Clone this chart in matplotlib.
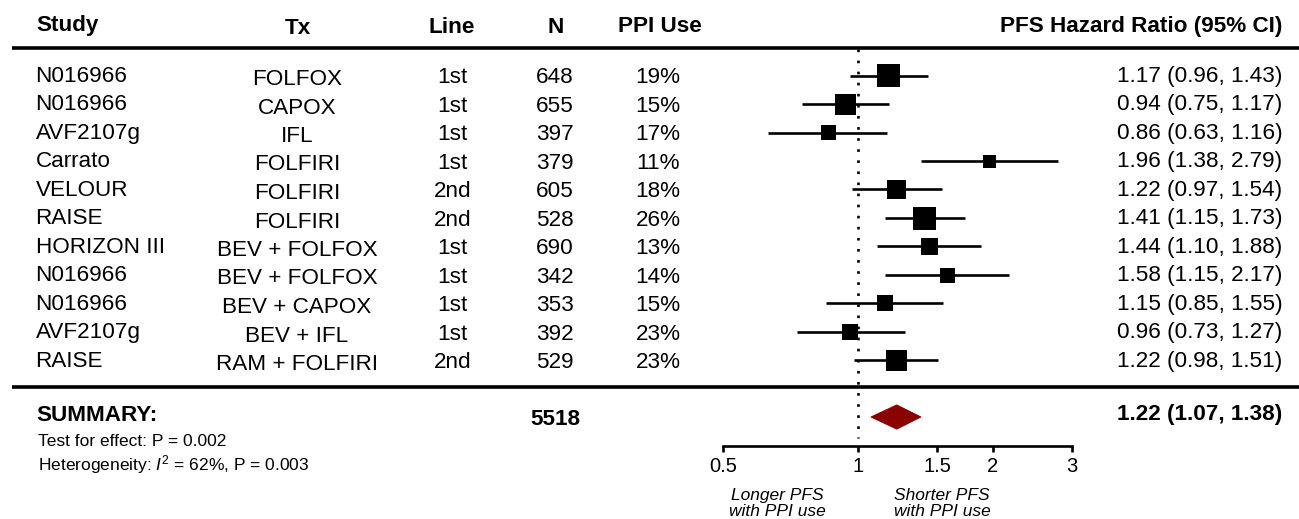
import matplotlib
matplotlib.use("Agg")
import matplotlib.pyplot as plt
import numpy as np
from matplotlib import transforms
from matplotlib.ticker import FixedLocator, FixedFormatter, NullLocator

plt.rcParams['font.family'] = ['Liberation Sans', 'DejaVu Sans']
plt.rcParams['mathtext.fontset'] = 'custom'
plt.rcParams['mathtext.rm'] = 'Liberation Sans'
plt.rcParams['mathtext.it'] = 'Liberation Sans:italic'

# ---------------- data ----------------
studies = ["N016966", "N016966", "AVF2107g", "Carrato", "VELOUR", "RAISE",
           "HORIZON III", "N016966", "N016966", "AVF2107g", "RAISE"]
treatments = ["FOLFOX", "CAPOX", "IFL", "FOLFIRI", "FOLFIRI", "FOLFIRI",
              "BEV + FOLFOX", "BEV + FOLFOX", "BEV + CAPOX", "BEV + IFL", "RAM + FOLFIRI"]
lines_of_tx = ["1st", "1st", "1st", "1st", "2nd", "2nd", "1st", "1st", "1st", "1st", "2nd"]
n_patients = [648, 655, 397, 379, 605, 528, 690, 342, 353, 392, 529]
ppi_use = [19, 15, 17, 11, 18, 26, 13, 14, 15, 23, 23]
hr = [1.17, 0.94, 0.86, 1.96, 1.22, 1.41, 1.44, 1.58, 1.15, 0.96, 1.22]
ci_low = [0.96, 0.75, 0.63, 1.38, 0.97, 1.15, 1.10, 1.15, 0.85, 0.73, 0.98]
ci_high = [1.43, 1.17, 1.16, 2.79, 1.54, 1.73, 1.88, 2.17, 1.55, 1.27, 1.51]
weights = [23, 21, 15, 13, 19, 23, 17, 15, 16, 16, 21]  # relative box weights

summary_n = 5518
summary_hr = 1.22
summary_low = 1.07
summary_high = 1.38
test_effect_p = "0.002"
het_i2 = 62
het_p = "0.003"

headers = ["Study", "Tx", "Line", "N", "PPI Use", "PFS Hazard Ratio (95% CI)"]
xticks = [0.5, 1, 1.5, 2, 3]
xtick_labels = ["0.5", "1", "1.5", "2", "3"]

# ---------------- layout ----------------
W, H = 1299, 519
fig = plt.figure(figsize=(W / 100, H / 100), dpi=100)

ROW0 = 47.0      # pixel y of row index 0
ROWH = 28.5      # pixel height of one row


def ry(px):
    """pixel y (from top) -> row units"""
    return (px - ROW0) / ROWH


def fx(px):
    return px / W


ax = fig.add_axes([fx(723), 0, fx(1072 - 723), 1])
ax.set_xscale('log')
ax.set_xlim(0.5, 3)
ax.set_ylim(ry(H), ry(0))
ax.patch.set_visible(False)

for s in ['top', 'left', 'right']:
    ax.spines[s].set_visible(False)
ax.spines['bottom'].set_position(('data', ry(446)))
ax.spines['bottom'].set_linewidth(1.9)
ax.yaxis.set_major_locator(NullLocator())
ax.xaxis.set_major_locator(FixedLocator(xticks))
ax.xaxis.set_major_formatter(FixedFormatter(xtick_labels))
ax.xaxis.set_minor_locator(NullLocator())
ax.tick_params(axis='x', direction='out', length=4, width=1.9, pad=4,
               labelsize=14.5, colors='black')

rows = np.arange(1, len(studies) + 1)

# reference line
ax.vlines(1, ry(49), ry(438), colors='black', linestyles=(0, (1, 3.2)), lw=1.9)

# CIs and boxes
ax.hlines(rows, ci_low, ci_high, colors='black', lw=1.9, capstyle='butt')
sizes = (np.array(weights) * 0.72) ** 2
ax.scatter(hr, rows, marker='s', s=sizes, color='black', linewidths=0, zorder=3)

# summary diamond
sy = ry(417)
dh = 12 / ROWH
ax.fill([summary_low, summary_hr, summary_high, summary_hr],
        [sy, sy - dh, sy, sy + dh], color='#8B0000', ec='#8B0000', lw=0.8,
        joinstyle='round', zorder=3)

# horizontal rules
blend = transforms.blended_transform_factory(fig.transFigure, ax.transData)
for ypx in (47.5, 387.5):
    ax.plot([fx(12), 1.0], [ry(ypx), ry(ypx)], color='black', lw=2.6,
            transform=blend, clip_on=False, solid_capstyle='butt')

FS = 16.2
# headers
hdr_x = [36, 297.5, 452, 555.5, 659.5, 1282.5]
hdr_ha = ['left', 'center', 'center', 'center', 'center', 'right']
hdr_base = [31, 34, 33, 33, 32, 32]
for t, x, ha, b in zip(headers, hdr_x, hdr_ha, hdr_base):
    ax.text(fx(x), ry(b), t, transform=blend, ha=ha, va='baseline',
            fontsize=FS, fontweight='bold')

# table rows
col_x = [35.5, 297, 452.5, 555, 658, 1282.5]
col_ha = ['left', 'center', 'center', 'center', 'center', 'right']
col_off = [6.2, 9.5, 7.8, 7.8, 7.8, 6.2]
for i, r in enumerate(rows):
    vals = [studies[i], treatments[i], lines_of_tx[i], str(n_patients[i]),
            f"{ppi_use[i]}%", f"{hr[i]:.2f} ({ci_low[i]:.2f}, {ci_high[i]:.2f})"]
    rpx = ROW0 + ROWH * r
    for v, x, ha, off in zip(vals, col_x, col_ha, col_off):
        ax.text(fx(x), ry(rpx + off), v, transform=blend, ha=ha, va='baseline',
                fontsize=FS)

# summary row
ax.text(fx(36), ry(421), "SUMMARY:", transform=blend, ha='left', va='baseline',
        fontsize=FS, fontweight='bold')
ax.text(fx(555), ry(425), str(summary_n), transform=blend, ha='center',
        va='baseline', fontsize=FS, fontweight='bold')
ax.text(fx(1282.5), ry(420),
        f"{summary_hr:.2f} ({summary_low:.2f}, {summary_high:.2f})",
        transform=blend, ha='right', va='baseline', fontsize=FS, fontweight='bold')

ax.text(fx(38), ry(446), f"Test for effect: P = {test_effect_p}", transform=blend,
        ha='left', va='baseline', fontsize=12.5)
ax.text(fx(38), ry(470), rf"Heterogeneity: $\mathit{{I}}^2$ = {het_i2}%, P = {het_p}",
        transform=blend, ha='left', va='baseline', fontsize=12.5)

# direction labels
for xc, txt in ((777, ["Longer PFS", "with PPI use"]),
                (942, ["Shorter PFS", "with PPI use"])):
    for t, b in zip(txt, (500, 516.5)):
        ax.text(fx(xc), ry(b), t, transform=blend, ha='center', va='baseline',
                fontsize=12.5, style='italic')

fig.savefig("out.png", dpi=100)
